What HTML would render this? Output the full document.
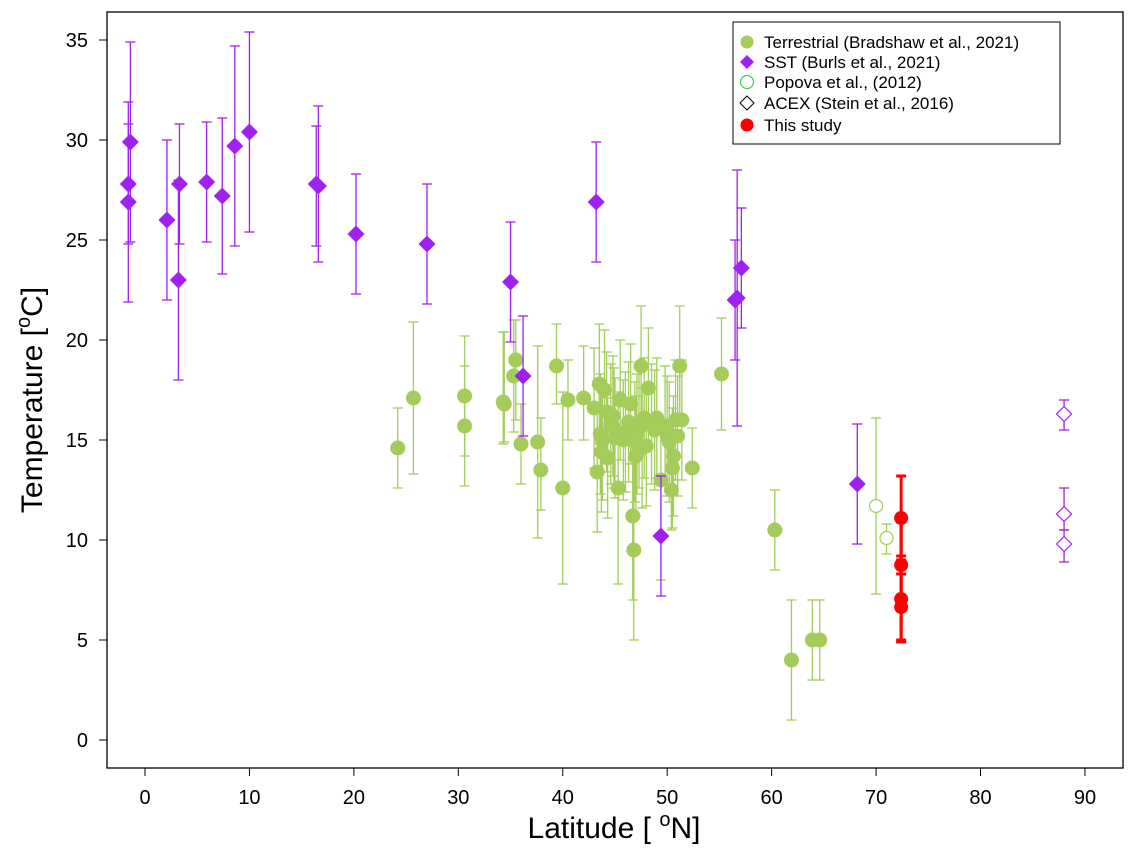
<!DOCTYPE html>
<html><head><meta charset="utf-8"><style>
body{margin:0;background:#fff}
svg{display:block;font-family:"Liberation Sans",Arial,sans-serif}
</style></head><body>
<svg id="chart" width="1135" height="853" xmlns="http://www.w3.org/2000/svg">
<rect x="107" y="12" width="1016" height="756" fill="none" stroke="#000" stroke-width="1.3"/>
<g id="axes"></g>
<g id="marks"></g>
<text x="32" y="390" font-size="30" text-anchor="middle" transform="rotate(-90 42 390)">Temperature [<tspan dy="-12" font-size="20">o</tspan><tspan dy="12">C]</tspan></text>
<text x="614" y="838" font-size="30" text-anchor="middle">Latitude [ <tspan dy="-12" font-size="20">o</tspan><tspan dy="12">N]</tspan></text>
<g>
<rect x="733" y="22" width="327" height="122" fill="#fff" stroke="#000" stroke-width="1"/>
<circle cx="747" cy="42" r="6.5" fill="#a3cc5a"/>
<text x="764" y="48" font-size="17">Terrestrial (Bradshaw et al., 2021)</text>
<path d="M747 55 L754 62 L747 69 L740 62 Z" fill="#a020f0"/>
<text x="764" y="68" font-size="17">SST (Burls et al., 2021)</text>
<circle cx="747" cy="82" r="6.5" fill="none" stroke="#22cc22"/>
<text x="764" y="88" font-size="17">Popova et al., (2012)</text>
<path d="M747 96 L754 103 L747 110 L740 103 Z" fill="none" stroke="#000"/>
<text x="764" y="109" font-size="17">ACEX (Stein et al., 2016)</text>
<circle cx="747" cy="125" r="6.5" fill="#ff0000"/>
<text x="764" y="131" font-size="17">This study</text>
</g>
</svg>
<script>
const xTicks=[0,10,20,30,40,50,60,70,80,90];
const yTicks=[0,5,10,15,20,25,30,35];
// [lat, T, low, high]
const terrestrial=[[24.2,14.6,12.6,16.6],[25.7,17.1,13.3,20.9],[30.6,17.2,14.2,20.2],[30.6,15.7,12.7,18.7],[34.3,16.9,14.8,20.4],[34.4,16.8,14.9,20.4],[35.3,18.2,15.4,21.0],[35.5,19.0,16.0,21.0],[36.0,14.8,12.8,16.8],[37.6,14.9,10.1,19.7],[37.9,13.5,11.5,16.1],[39.4,18.7,16.8,20.8],[40.0,12.6,7.8,17.4],[40.5,17.0,15.0,19.0],[42.0,17.1,15.0,19.7],[43.0,16.6,13.6,19.6],[43.3,13.4,10.4,16.4],[43.5,17.8,14.8,20.8],[43.6,15.3,12.3,18.3],[43.7,14.4,11.4,17.4],[44.0,17.5,14.5,20.5],[44.2,16.4,13.4,19.4],[44.3,14.1,11.1,17.1],[44.6,15.8,12.8,18.8],[45.0,15.1,12.1,18.1],[45.3,12.6,7.8,17.4],[45.5,17.0,14.0,20.0],[46.0,15.4,12.4,18.4],[46.5,16.8,13.8,19.8],[46.7,11.2,7.0,15.4],[46.8,9.5,5.0,14.0],[47.0,14.2,11.2,17.2],[47.3,15.6,12.6,18.6],[47.5,18.7,15.7,21.7],[47.8,16.1,13.1,19.1],[48.0,14.7,11.7,17.7],[48.2,17.6,14.6,20.6],[48.5,15.8,12.8,18.8],[49.0,16.1,13.1,19.1],[49.4,13.0,8.0,16.0],[50.0,15.2,12.2,18.2],[50.2,14.9,11.9,17.9],[50.4,12.5,10.5,14.5],[50.5,13.6,10.6,16.6],[50.6,14.2,11.2,17.2],[50.8,16.0,13.0,19.0],[51.0,15.2,12.2,18.2],[51.2,18.7,15.7,21.7],[51.4,16.0,13.0,19.0],[52.4,13.6,11.6,15.6],[55.2,18.3,15.5,21.1],[60.3,10.5,8.5,12.5],[61.9,4.0,1.0,7.0],[63.9,5.0,3.0,7.0],[64.6,5.0,3.0,7.0],[43.8,15.0,12.0,18.0],[44.8,16.2,13.2,19.2],[45.8,15.0,12.0,18.0],[46.3,15.9,12.9,18.9],[47.1,15.3,12.3,18.3],[47.6,14.6,11.6,17.6],[48.8,15.5,12.5,18.5],[49.8,15.7,12.7,18.7],[44.9,15.6,12.6,18.6],[46.9,14.9,11.9,17.9]];
const sst=[[-1.6,27.8,24.8,30.8],[-1.6,26.9,21.9,31.9],[-1.4,29.9,24.9,34.9],[2.1,26.0,22.0,30.0],[3.2,23.0,18.0,28.0],[3.3,27.8,24.8,30.8],[5.9,27.9,24.9,30.9],[7.4,27.2,23.3,31.1],[8.6,29.7,24.7,34.7],[10.0,30.4,25.4,35.4],[16.4,27.8,24.7,30.7],[16.6,27.7,23.9,31.7],[20.2,25.3,22.3,28.3],[27.0,24.8,21.8,27.8],[35.0,22.9,19.9,25.9],[36.2,18.2,15.2,21.2],[43.2,26.9,23.9,29.9],[49.4,10.2,7.2,13.2],[56.5,22.0,19.0,25.0],[56.7,22.1,15.7,28.5],[57.1,23.6,20.6,26.6],[68.2,12.8,9.8,15.8]];
const popova=[[70.0,11.7,7.3,16.1],[71.0,10.1,9.3,10.8]];
const acex=[[88.0,16.3,15.5,17.0],[88.0,11.3,10.5,12.6],[88.0,9.8,8.9,10.5]];
const thisStudy=[[72.4,11.1,9.0,13.2],[72.4,8.75,6.6,10.9],[72.4,7.05,4.9,9.2],[72.4,6.65,5.0,8.3]];

const NS="http://www.w3.org/2000/svg";
const X=v=>145+v*10.444;
const Y=v=>740-v*20;
const axes=document.getElementById('axes'), marks=document.getElementById('marks');
function mk(tag,attrs,parent){const e=document.createElementNS(NS,tag);for(const k in attrs)e.setAttribute(k,attrs[k]);parent.appendChild(e);return e;}
xTicks.forEach(t=>{
  const l=mk('line',{x1:X(t),x2:X(t),y1:768,y2:776,stroke:'#000'},axes);
  
  
  const tx=mk('text',{x:X(t),y:804,'font-size':20,'text-anchor':'middle'},axes);tx.textContent=t;
  
  
});
yTicks.forEach(t=>{
  const l=mk('line',{x1:99,x2:107,y1:Y(t),y2:Y(t),stroke:'#000'},axes);
  
  
  const tx=mk('text',{x:88,y:Y(t)+7,'font-size':20,'text-anchor':'end'},axes);tx.textContent=t;
  
  
});
function err(d,color,w,name){
  const g=mk('g',{stroke:color,'stroke-width':w,fill:'none'},marks);
  
  
  const x=X(d[0]);
  mk('line',{x1:x,x2:x,y1:Y(d[2]),y2:Y(d[3])},g);
  mk('line',{x1:x-5,x2:x+5,y1:Y(d[2]),y2:Y(d[2])},g);
  mk('line',{x1:x-5,x2:x+5,y1:Y(d[3]),y2:Y(d[3])},g);
}
function dia(x,y,r){return `M${x} ${y-r} L${x+r} ${y} L${x} ${y+r} L${x-r} ${y} Z`;}
terrestrial.forEach(d=>err(d,'#a3cc5a',1.3,'terrestrial-error-bar'));
terrestrial.forEach(d=>{const c=mk('circle',{cx:X(d[0]),cy:Y(d[1]),r:7.5,fill:'#a3cc5a'},marks);
  
  });
sst.forEach(d=>err(d,'#a020f0',1.3,'sst-error-bar'));
sst.forEach(d=>{const p=mk('path',{d:dia(X(d[0]),Y(d[1]),8.5),fill:'#a020f0'},marks);
  
  });
popova.forEach(d=>err(d,'#a3cc5a',1.3,'popova-error-bar'));
popova.forEach(d=>{const c=mk('circle',{cx:X(d[0]),cy:Y(d[1]),r:6.5,fill:'#fff',stroke:'#a3cc5a','stroke-width':1.2},marks);
  
  });
acex.forEach(d=>err(d,'#a020f0',1.3,'acex-error-bar'));
acex.forEach(d=>{const p=mk('path',{d:dia(X(d[0]),Y(d[1]),7.5),fill:'#fff',stroke:'#a020f0','stroke-width':1.2},marks);
  
  });
thisStudy.forEach(d=>err(d,'#ff0000',3,'this-study-error-bar'));
thisStudy.forEach(d=>{const c=mk('circle',{cx:X(d[0]),cy:Y(d[1]),r:7,fill:'#ff0000'},marks);
  
  });
</script>
</body></html>
